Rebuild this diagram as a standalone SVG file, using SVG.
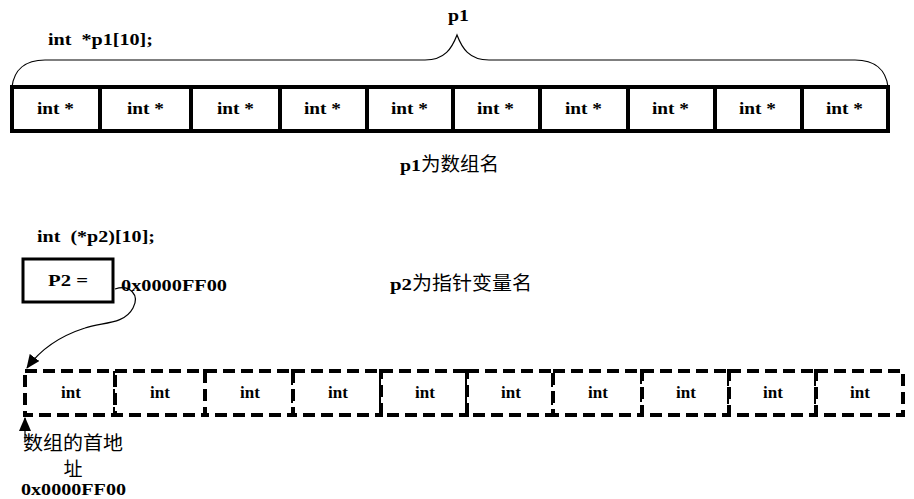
<svg xmlns="http://www.w3.org/2000/svg" width="914" height="499" viewBox="0 0 914 499">
<style>
text{white-space:pre}
.b{font-family:"Liberation Serif","Times New Roman","DejaVu Serif","Noto Sans CJK SC",serif;font-weight:bold;font-size:17px;fill:#000}
.c{font-family:"Noto Sans CJK SC",sans-serif;font-weight:normal;font-size:19px;fill:#000}
.cell{fill:#fff;stroke:#000;stroke-width:4}
.dcell{fill:#fff;stroke:#000;stroke-width:4;stroke-dasharray:12 6}
.ln{fill:none;stroke:#000;stroke-width:1.2}
</style>
<defs>
<marker id="ah2" markerWidth="14" markerHeight="12" refX="13" refY="6" orient="auto" markerUnits="userSpaceOnUse">
<path d="M0,0 L14,6 L0,12 z" fill="#000"/>
</marker>
</defs>
<g id="decl1"><text class="b" x="48" y="45" textLength="105" lengthAdjust="spacingAndGlyphs">int  *p1[10];</text></g>
<g id="p1label"><text class="b" x="448" y="21" textLength="21" lengthAdjust="spacingAndGlyphs">p1</text></g>
<g id="brace"><path class="ln" d="M12,87 C14,70 25,60 45,60 L425,60 C445,60 452,48 457,35 C462,48 469,60 489,60 L855,60 C875,60 886,70 888,87"/></g>
<g id="array1">
<rect class="cell" x="12" y="87" width="88" height="44"/>
<rect class="cell" x="100" y="87" width="91" height="44"/>
<rect class="cell" x="191" y="87" width="89" height="44"/>
<rect class="cell" x="280" y="87" width="87" height="44"/>
<rect class="cell" x="367" y="87" width="86" height="44"/>
<rect class="cell" x="453" y="87" width="87" height="44"/>
<rect class="cell" x="540" y="87" width="88" height="44"/>
<rect class="cell" x="628" y="87" width="87" height="44"/>
<rect class="cell" x="715" y="87" width="87" height="44"/>
<rect class="cell" x="802" y="87" width="86" height="44"/>
<text class="b" x="37" y="114" textLength="37" lengthAdjust="spacingAndGlyphs">int *</text>
<text class="b" x="127" y="114" textLength="37" lengthAdjust="spacingAndGlyphs">int *</text>
<text class="b" x="217" y="114" textLength="37" lengthAdjust="spacingAndGlyphs">int *</text>
<text class="b" x="304" y="114" textLength="37" lengthAdjust="spacingAndGlyphs">int *</text>
<text class="b" x="391" y="114" textLength="37" lengthAdjust="spacingAndGlyphs">int *</text>
<text class="b" x="477" y="114" textLength="37" lengthAdjust="spacingAndGlyphs">int *</text>
<text class="b" x="565" y="114" textLength="37" lengthAdjust="spacingAndGlyphs">int *</text>
<text class="b" x="652" y="114" textLength="37" lengthAdjust="spacingAndGlyphs">int *</text>
<text class="b" x="739" y="114" textLength="37" lengthAdjust="spacingAndGlyphs">int *</text>
<text class="b" x="826" y="114" textLength="37" lengthAdjust="spacingAndGlyphs">int *</text>
</g>
<g id="p1name"><text class="b" x="400" y="171" textLength="21" lengthAdjust="spacingAndGlyphs">p1</text><text class="c" x="421" y="171" textLength="78" lengthAdjust="spacingAndGlyphs">为数组名</text></g>
<g id="decl2"><text class="b" x="37" y="242" textLength="118" lengthAdjust="spacingAndGlyphs">int  (*p2)[10];</text></g>
<g id="p2box">
<rect x="23" y="259" width="90" height="43" fill="#fff" stroke="#000" stroke-width="3"/>
<text class="b" x="48" y="286" textLength="40" lengthAdjust="spacingAndGlyphs">P2 =</text>
</g>
<g id="p2val"><text class="b" x="121" y="291" textLength="106" lengthAdjust="spacingAndGlyphs">0x0000FF00</text></g>
<g id="p2name"><text class="b" x="390" y="290" textLength="22" lengthAdjust="spacingAndGlyphs">p2</text><text class="c" x="412" y="290" textLength="120" lengthAdjust="spacingAndGlyphs">为指针变量名</text></g>
<g id="array2">
<rect class="dcell" x="25" y="371" width="90" height="44"/>
<rect class="dcell" x="115" y="371" width="90" height="44"/>
<rect class="dcell" x="205" y="371" width="88" height="44"/>
<rect class="dcell" x="293" y="371" width="88" height="44"/>
<rect class="dcell" x="381" y="371" width="86" height="44"/>
<rect class="dcell" x="467" y="371" width="86" height="44"/>
<rect class="dcell" x="553" y="371" width="89" height="44"/>
<rect class="dcell" x="642" y="371" width="87" height="44"/>
<rect class="dcell" x="729" y="371" width="87" height="44"/>
<rect class="dcell" x="816" y="371" width="87" height="44"/>
<text class="b" x="71" y="398" text-anchor="middle">int</text>
<text class="b" x="160" y="398" text-anchor="middle">int</text>
<text class="b" x="250" y="398" text-anchor="middle">int</text>
<text class="b" x="338" y="398" text-anchor="middle">int</text>
<text class="b" x="425" y="398" text-anchor="middle">int</text>
<text class="b" x="511" y="398" text-anchor="middle">int</text>
<text class="b" x="598" y="398" text-anchor="middle">int</text>
<text class="b" x="686" y="398" text-anchor="middle">int</text>
<text class="b" x="773" y="398" text-anchor="middle">int</text>
<text class="b" x="860" y="398" text-anchor="middle">int</text>
</g>
<g id="addrlabel">
<text class="c" x="23" y="450" font-size="15" textLength="100" lengthAdjust="spacingAndGlyphs">数组的首地</text>
<text class="c" x="73" y="476" text-anchor="middle" font-size="15">址</text>
<text class="b" x="21" y="495" font-size="16" textLength="105" lengthAdjust="spacingAndGlyphs">0x0000FF00</text>
</g>
<g id="connectors">
<path class="ln" d="M115,289 C130,284 140,295 133,308 C124,325 102,322 85,328 C60,336 40,350 27,368" marker-end="url(#ah2)"/>
<line class="ln" x1="25" y1="441" x2="25" y2="418" marker-end="url(#ah2)"/>
</g>
</svg>
